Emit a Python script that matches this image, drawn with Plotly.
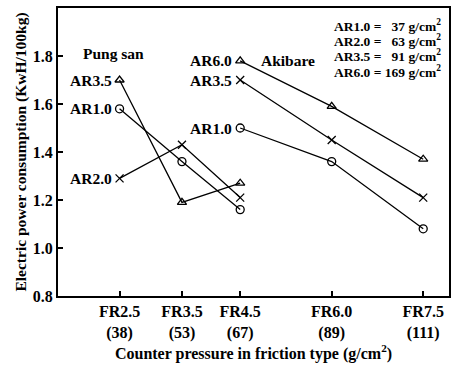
import plotly.graph_objects as go

# Counter pressure categories (FR type) and their pressures (g/cm2)
fr_labels = ["FR2.5", "FR3.5", "FR4.5", "FR6.0", "FR7.5"]
pressures = [38, 53, 67, 89, 111]

# Pung san (FR2.5, FR3.5, FR4.5)
pung_x = [38, 53, 67]
pung_ar35 = [1.70, 1.19, 1.27]
pung_ar10 = [1.58, 1.36, 1.16]
pung_ar20 = [1.29, 1.43, 1.21]

# Akibare (FR4.5, FR6.0, FR7.5)
aki_x = [67, 89, 111]
aki_ar60 = [1.78, 1.59, 1.37]
aki_ar35 = [1.70, 1.45, 1.21]
aki_ar10 = [1.50, 1.36, 1.08]

legend_lines = ["AR1.0 =   37 g/cm<sup>2</sup>", "AR2.0 =   63 g/cm<sup>2</sup>",
                "AR3.5 =   91 g/cm<sup>2</sup>", "AR6.0 = 169 g/cm<sup>2</sup>"]

FONT = "Liberation Serif"
fig = go.Figure()

def add(x, y, sym):
    fig.add_trace(go.Scatter(
        x=x, y=y, mode="lines+markers",
        line=dict(color="black", width=1.3),
        marker=dict(symbol=sym, size=8, color="black", line=dict(width=1.3, color="black")),
        showlegend=False))

add(pung_x, pung_ar35, "triangle-up-open")
add(pung_x, pung_ar10, "circle-open")
add(pung_x, pung_ar20, "x-thin-open")
add(aki_x, aki_ar60, "triangle-up-open")
add(aki_x, aki_ar35, "x-thin-open")
add(aki_x, aki_ar10, "circle-open")

ann = []
def lab(text, x, y, xshift=-6, anchor="right", size=15.5):
    ann.append(dict(text=text, x=x, y=y, xref="x", yref="y", showarrow=False,
                    xanchor=anchor, yanchor="middle", xshift=xshift,
                    font=dict(family=FONT, size=size, color="black", weight="bold")))

lab("AR3.5", pung_x[0], pung_ar35[0])
lab("AR1.0", pung_x[0], pung_ar10[0])
lab("AR2.0", pung_x[0], pung_ar20[0])
lab("AR6.0", aki_x[0], aki_ar60[0])
lab("AR3.5", aki_x[0], aki_ar35[0])
lab("AR1.0", aki_x[0], aki_ar10[0])
lab("Pung san", 36.5, 1.81, xshift=0, anchor="center")
lab("Akibare", 71.5, 1.78, xshift=0, anchor="left")

for i, t in enumerate(legend_lines):
    ann.append(dict(text=t, x=0.985, y=0.94 - i * 0.053, xref="paper", yref="paper",
                    showarrow=False, xanchor="right", yanchor="middle",
                    font=dict(family=FONT, size=13.5, color="black", weight="bold")))

fig.update_layout(
    width=453, height=368,
    margin=dict(l=58, r=2, t=8, b=72),
    plot_bgcolor="white", paper_bgcolor="white",
    annotations=ann,
    font=dict(family=FONT, color="black", size=16, weight="bold"),
    xaxis=dict(
        range=[23.2, 117.2], tickmode="array", tickvals=pressures,
        ticktext=[f"{f}<br>({p})" for f, p in zip(fr_labels, pressures)],
        ticks="inside", ticklen=5, tickwidth=1.5, tickcolor="black",
        showline=True, linecolor="black", linewidth=2, mirror=True,
        showgrid=False, zeroline=False,
        tickfont=dict(family=FONT, size=16, weight="bold"),
        title=dict(text="Counter pressure in friction type (g/cm<sup>2</sup>)",
                   font=dict(family=FONT, size=16, weight="bold"), standoff=4),
    ),
    yaxis=dict(
        range=[0.8, 2.0], tickmode="array", tickvals=[0.8, 1.0, 1.2, 1.4, 1.6, 1.8, 2.0],
        ticktext=["0.8", "1.0", "1.2", "1.4", "1.6", "1.8", "2.0"],
        ticks="inside", ticklen=5, tickwidth=1.5, tickcolor="black",
        showline=True, linecolor="black", linewidth=2, mirror=True,
        showgrid=False, zeroline=False,
        tickfont=dict(family=FONT, size=16, weight="bold"),
        title=dict(text="Electric power consumption (KwH/100kg)",
                   font=dict(family=FONT, size=15.5, weight="bold"), standoff=2),
    ),
)

fig.write_html("out.html")
